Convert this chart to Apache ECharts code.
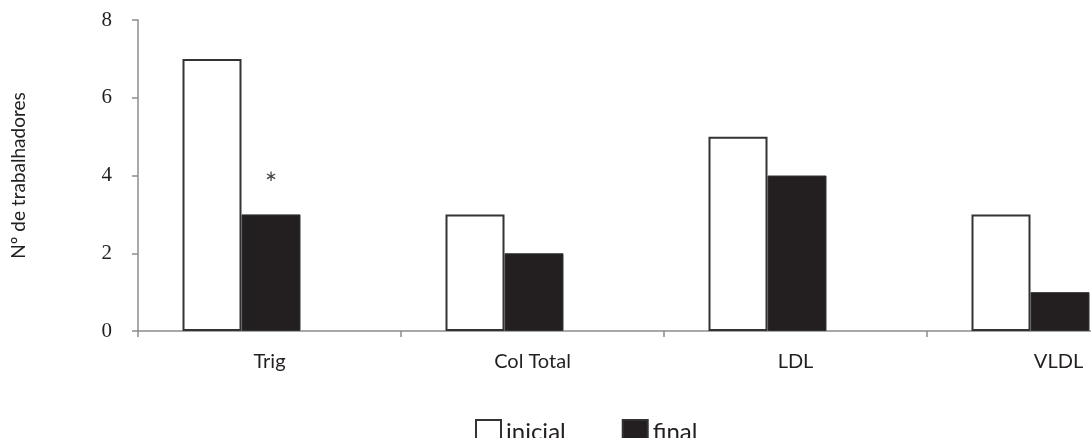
<!DOCTYPE html>
<html>
<head>
<meta charset="utf-8">
<script src="https://cdn.jsdelivr.net/npm/echarts@6/dist/echarts.min.js"></script>
<style>
html,body{margin:0;padding:0;background:#fff;}
#chart{width:1091px;height:438px;}
</style>
</head>
<body>
<div id="chart"></div>
<script>
const categories = ['Trig', 'Col Total', 'LDL', 'VLDL'];
const inicial = [7, 3, 5, 3];
const final = [3, 2, 4, 1];
const significant = [true, false, false, false];
const yTicks = [0, 2, 4, 6, 8];

const txt = '#231f20';
const axisCol = '#8c8c8c';
const chart = echarts.init(document.getElementById('chart'));
chart.setOption({
  backgroundColor: '#fff',
  animation: false,
  legend: {
    left: 470, top: 414,
    icon: 'rect',
    itemWidth: 25, itemHeight: 25, itemGap: 56,
    textStyle: { fontFamily: 'Lato', fontSize: 24, color: txt },
    data: ['inicial', 'final']
  },
  grid: [
    { left: 138, width: 1052, top: 20, height: 311, outerBoundsMode: 'none', containLabel: false },
    { left: 110, width: 1052, top: 20, height: 311, outerBoundsMode: 'none', containLabel: false }
  ],
  xAxis: [
    {
      type: 'category', gridIndex: 0, data: categories,
      axisLine: { lineStyle: { color: axisCol, width: 1.5 } },
      axisTick: { show: true, length: 6, lineStyle: { color: axisCol, width: 1.5 } },
      axisLabel: { margin: 21, fontFamily: 'Lato', fontSize: 20, color: txt }
    },
    {
      type: 'category', gridIndex: 1, data: categories, show: false
    }
  ],
  yAxis: [
    {
      type: 'value', gridIndex: 0, min: 0, max: 8, interval: 2,
      name: 'Nº de trabalhadores', nameLocation: 'middle', nameGap: 110,
      nameTextStyle: { fontFamily: 'Lato', fontSize: 19, color: txt },
      axisLine: { show: true, lineStyle: { color: axisCol, width: 1.5 } },
      axisTick: { show: true, length: 6, lineStyle: { color: axisCol, width: 1.5 } },
      axisLabel: { margin: 26, fontFamily: 'Liberation Serif', fontSize: 21, color: txt,
        formatter: v => yTicks.includes(v) ? String(v) : '' },
      splitLine: { show: false }
    },
    {
      type: 'value', gridIndex: 1, min: 0, max: 8, interval: 2, show: false,
      splitLine: { show: false }
    }
  ],
  series: [
    {
      name: 'inicial', type: 'bar', xAxisIndex: 1, yAxisIndex: 1,
      data: inicial, barWidth: 59, barGap: '0%',
      itemStyle: { color: '#ffffff', borderColor: '#333333', borderWidth: 2 }
    },
    {
      name: 'final', type: 'bar', xAxisIndex: 1, yAxisIndex: 1,
      data: final, barWidth: 59, barGap: '0%',
      itemStyle: { color: '#231f20', borderColor: '#333333', borderWidth: 1 },
      label: {
        show: true, position: 'top', distance: 30,
        fontFamily: 'DejaVu Sans', fontSize: 15, color: '#444',
        formatter: p => significant[p.dataIndex] ? '∗' : ''
      }
    }
  ]
});
</script>
</body>
</html>
